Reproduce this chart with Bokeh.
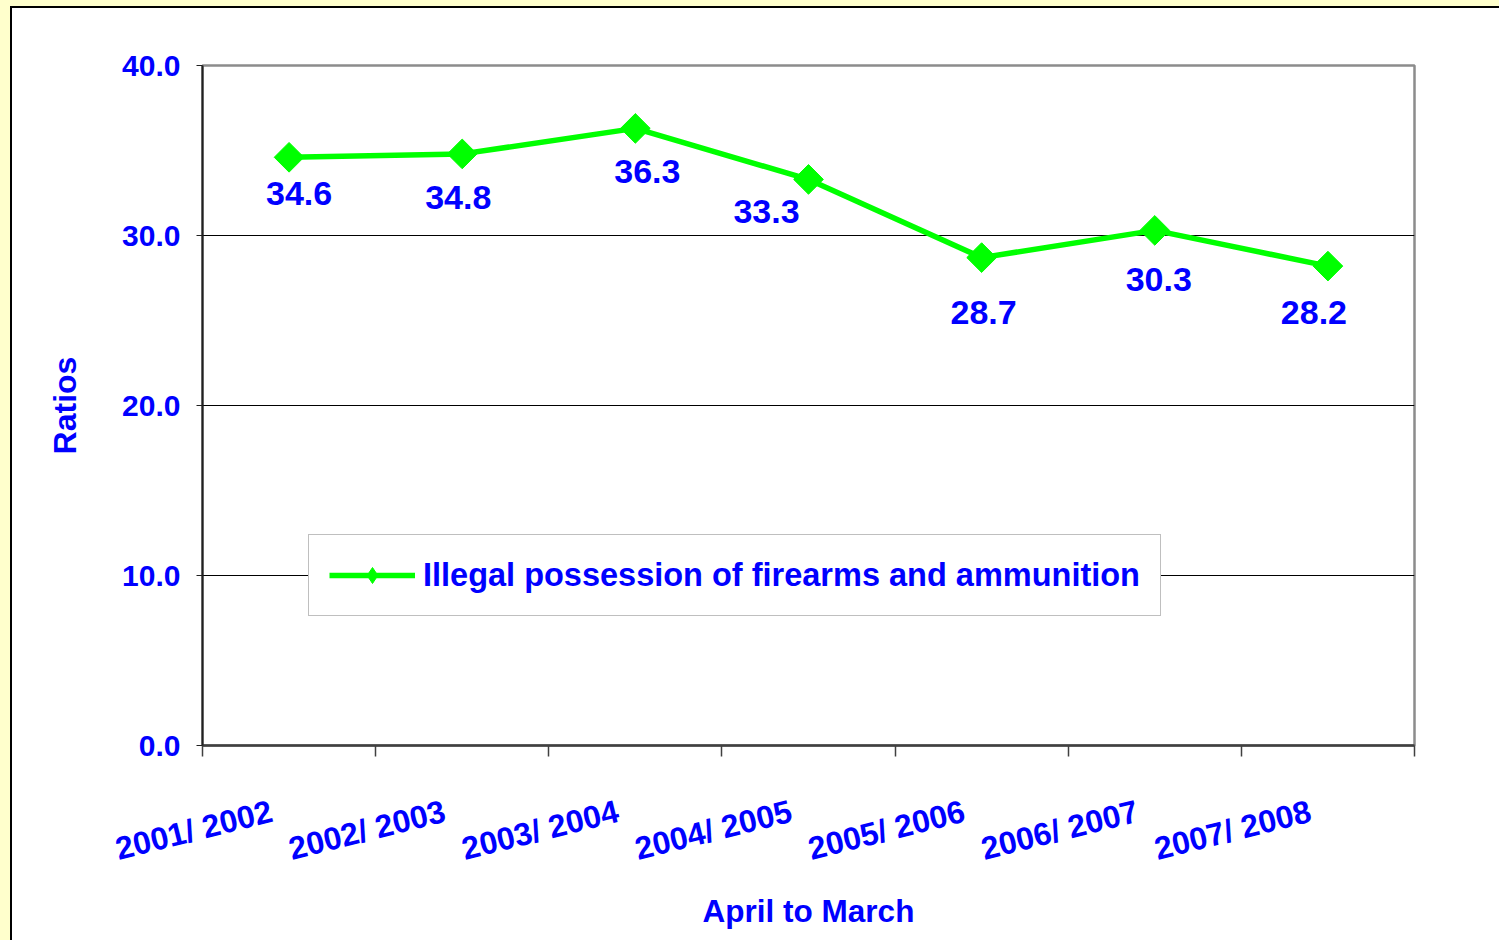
import math
from bokeh.plotting import figure
from bokeh.models import (Range1d, LinearAxis, FixedTicker, PrintfTickFormatter,
                          ColumnDataSource, LabelSet, Legend, LegendItem, Grid,
                          CustomJSTickFormatter)
from bokeh.core.properties import value
from bokeh.embed import file_html
from bokeh.resources import INLINE

# ---- data ----
periods = ["2001/ 2002", "2002/ 2003", "2003/ 2004", "2004/ 2005",
           "2005/ 2006", "2006/ 2007", "2007/ 2008"]
ratios = [34.6, 34.8, 36.3, 33.3, 28.7, 30.3, 28.2]
y_ticks = [0, 10, 20, 30, 40]
series_name = "Illegal possession of firearms and ammunition"
x_title = "April to March"
y_title = "Ratios"

# ---- layout of value labels (screen px offsets) ----
label_dx = [10, -4, 12, -42, 2, 4, -14]
label_dy = [-36, -44, -43, -32, -55, -49, -46]

FONT = "Liberation Sans"
BLUE = "#0000FF"
GREEN = "#00FF00"

n = len(periods)
xs = list(range(1, n + 1))

p = figure(width=1499, height=940, output_backend="svg", toolbar_location=None,
           x_range=Range1d(0.5, n + 0.5), y_range=Range1d(0, 40),
           x_axis_location=None, y_axis_location=None,
           styles={"background-color": "white",
                   "box-shadow": "inset 10px 6px 0 0 #FFFFCC, inset 12px 8px 0 0 #000000"})
# shifted copy of the x range, used only to place the slanted category labels
p.extra_x_ranges = {"labels": Range1d(0.5 + 0.101, n + 0.5 + 0.101)}
p.min_border_left = 202
p.min_border_top = 65
p.min_border_right = 85
p.min_border_bottom = 195
p.background_fill_color = "white"
p.border_fill_alpha = 0.0
p.outline_line_color = "#8C8C8C"
p.outline_line_width = 2.5

# drop default grids
p.center = [r for r in p.center if not isinstance(r, Grid)]
p.add_layout(Grid(dimension=1, ticker=FixedTicker(ticks=[10, 20, 30]),
                  grid_line_color="black", grid_line_width=1))

# y axis
yaxis = LinearAxis(ticker=FixedTicker(ticks=y_ticks),
                   formatter=PrintfTickFormatter(format="%.1f"),
                   axis_label=y_title)
yaxis.major_tick_out = 6
yaxis.major_tick_in = 0
yaxis.minor_tick_out = 0
yaxis.minor_tick_in = 0
yaxis.major_tick_line_color = "#202020"
yaxis.axis_line_color = "#202020"
yaxis.axis_line_width = 2
yaxis.major_label_standoff = 16
yaxis.major_label_text_font = FONT
yaxis.major_label_text_font_style = "bold"
yaxis.major_label_text_font_size = "30px"
yaxis.major_label_text_color = BLUE
yaxis.axis_label_text_font = FONT
yaxis.axis_label_text_font_style = "bold"
yaxis.axis_label_text_font_size = "32px"
yaxis.axis_label_text_color = BLUE
yaxis.axis_label_standoff = 36
p.add_layout(yaxis, "left")

# x axis: tick marks at category boundaries
xtick = LinearAxis(ticker=FixedTicker(ticks=[0.5 + i for i in range(n + 1)]),
                   formatter=CustomJSTickFormatter(code="return ''"))
xtick.major_tick_out = 11
xtick.major_tick_in = 0
xtick.minor_tick_out = 0
xtick.minor_tick_in = 0
xtick.major_label_standoff = 0
xtick.major_label_text_font_size = "1px"
xtick.axis_line_color = "#404040"
xtick.axis_line_width = 2.5
xtick.major_tick_line_color = "#404040"
xtick.major_tick_line_width = 1.5
p.add_layout(xtick, "below")

# x axis: category labels
xlab = LinearAxis(ticker=FixedTicker(ticks=xs), x_range_name="labels",
                  major_label_overrides={x: lab for x, lab in zip(xs, periods)},
                  axis_label=x_title)
xlab.axis_line_color = None
xlab.major_tick_line_color = None
xlab.minor_tick_line_color = None
xlab.major_tick_out = 0
xlab.major_tick_in = 0
xlab.minor_tick_out = 0
xlab.minor_tick_in = 0
xlab.major_label_orientation = math.radians(14)
xlab.major_label_standoff = 54
xlab.major_label_text_font = FONT
xlab.major_label_text_font_style = "bold"
xlab.major_label_text_font_size = "32px"
xlab.major_label_text_color = BLUE
xlab.axis_label_text_font = FONT
xlab.axis_label_text_font_style = "bold"
xlab.axis_label_text_font_size = "31.5px"
xlab.axis_label_text_color = BLUE
xlab.axis_label_standoff = 6
p.add_layout(xlab, "below")

src = ColumnDataSource(dict(x=xs, y=ratios,
                            label=[f"{v:.1f}" for v in ratios],
                            dx=label_dx, dy=label_dy))

line = p.line("x", "y", source=src, line_color=GREEN, line_width=5.5)
pts = p.scatter("x", "y", source=src, marker="square", size=21, angle=math.pi / 4,
                fill_color=GREEN, line_color=GREEN)
# legend-only marker (diamond), not drawn in the plot
legend_pts = p.scatter("x", "y", source=src, marker="diamond", size=21,
                       fill_color=GREEN, line_color=GREEN, visible=False)

labels = LabelSet(x="x", y="y", text="label", x_offset="dx", y_offset="dy",
                  source=src, text_align="center", text_baseline="middle",
                  text_font=value(FONT), text_font_style="bold",
                  text_font_size="34px", text_color=BLUE)
p.add_layout(labels)

legend = Legend(items=[LegendItem(label=series_name, renderers=[line, legend_pts])],
                location=(106, 129), orientation="vertical")
legend.margin = 0
legend.padding = 20
legend.glyph_width = 86
legend.glyph_height = 40
legend.label_height = 30
legend.label_standoff = 8
legend.label_text_font = FONT
legend.label_text_font_style = "bold"
legend.label_text_font_size = "32.5px"
legend.label_text_color = BLUE
legend.border_line_color = "#808080"
legend.border_line_width = 1.5
legend.background_fill_color = "white"
legend.background_fill_alpha = 1.0
p.add_layout(legend, "center")

open("out.html", "w").write(file_html(p, INLINE))
